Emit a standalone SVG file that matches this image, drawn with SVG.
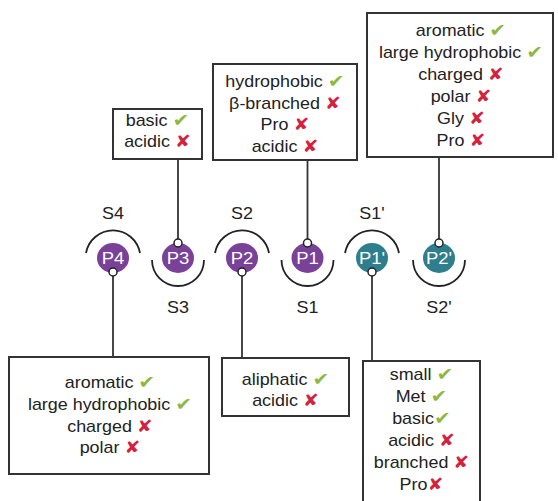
<svg xmlns="http://www.w3.org/2000/svg" width="558" height="501" viewBox="0 0 558 501">
<style>
.box{fill:#fff;stroke:#333;stroke-width:2}
.ln{stroke:#333;stroke-width:1.8;fill:none}
.arc{stroke:#222;stroke-width:1.8;fill:none}
.dot{fill:#fff;stroke:#222;stroke-width:1.5}
.pur{fill:#7a4199}
.teal{fill:#2f7e8e}
text{font-family:"Liberation Sans",Arial,sans-serif;font-size:16px;fill:#222;text-anchor:middle}
.pl{fill:#fff;font-size:16.5px}
.ok{fill:#8cb83e;font-family:"DejaVu Sans",sans-serif;font-size:18px}
.no{fill:#d4213d;font-family:"DejaVu Sans",sans-serif;font-size:17px}
</style>
<rect width="558" height="501" fill="#fff"/>
<g id="connectors">
<line class="ln" x1="178" y1="159" x2="178" y2="242"/>
<line class="ln" x1="307.5" y1="160" x2="307.5" y2="242"/>
<line class="ln" x1="439" y1="157" x2="439" y2="242"/>
<line class="ln" x1="113" y1="274" x2="113" y2="357"/>
<line class="ln" x1="242" y1="274" x2="242" y2="358"/>
<line class="ln" x1="372" y1="274" x2="372" y2="361"/>
</g>
<g id="S4"><path class="arc" d="M86,253 A27.5,28 0 0 1 140,253"/><text transform="translate(113,219) scale(1.12,1)">S4</text></g>
<g id="S3"><path class="arc" d="M152,260 A26,26 0 0 0 204,260"/><text transform="translate(178,313) scale(1.12,1)">S3</text></g>
<g id="S2"><path class="arc" d="M215,253 A27.5,28 0 0 1 269,253"/><text transform="translate(242,219) scale(1.12,1)">S2</text></g>
<g id="S1"><path class="arc" d="M281.5,260 A26,26 0 0 0 333.5,260"/><text transform="translate(307.5,313) scale(1.12,1)">S1</text></g>
<g id="S1p"><path class="arc" d="M345,253 A27.5,28 0 0 1 399,253"/><text transform="translate(372,219) scale(1.12,1)">S1'</text></g>
<g id="S2p"><path class="arc" d="M413,260 A26,26 0 0 0 465,260"/><text transform="translate(439,313) scale(1.12,1)">S2'</text></g>
<g id="P4"><ellipse class="pur" cx="113" cy="258" rx="16" ry="15"/><text class="pl" transform="translate(113,264) scale(1.12,1)">P4</text><circle class="dot" cx="113" cy="272" r="4"/></g>
<g id="P3"><ellipse class="pur" cx="178" cy="258" rx="16" ry="15"/><text class="pl" transform="translate(178,264) scale(1.12,1)">P3</text><circle class="dot" cx="178" cy="243" r="4"/></g>
<g id="P2"><ellipse class="pur" cx="242" cy="258" rx="16" ry="15"/><text class="pl" transform="translate(242,264) scale(1.12,1)">P2</text><circle class="dot" cx="242" cy="272" r="4"/></g>
<g id="P1"><ellipse class="pur" cx="307.5" cy="258" rx="16" ry="15"/><text class="pl" transform="translate(307.5,264) scale(1.12,1)">P1</text><circle class="dot" cx="307.5" cy="243" r="4"/></g>
<g id="P1p"><ellipse class="teal" cx="372" cy="258" rx="16" ry="15"/><text class="pl" transform="translate(372,264) scale(1.12,1)">P1'</text><circle class="dot" cx="372" cy="272" r="4"/></g>
<g id="P2p"><ellipse class="teal" cx="439" cy="258" rx="16" ry="15"/><text class="pl" transform="translate(439,264) scale(1.12,1)">P2'</text><circle class="dot" cx="439" cy="243" r="4"/></g>
<g id="box-P3">
<rect class="box" x="113" y="109" width="89" height="50"/>
<text transform="translate(157.5,126) scale(1.12,1)">basic <tspan class="ok">✔</tspan></text>
<text transform="translate(157.5,147) scale(1.12,1)">acidic <tspan class="no">✘</tspan></text>
</g>
<g id="box-P1">
<rect class="box" x="213" y="64" width="144" height="96"/>
<text transform="translate(285,87) scale(1.12,1)">hydrophobic <tspan class="ok">✔</tspan></text>
<text transform="translate(285,108.5) scale(1.12,1)">β-branched <tspan class="no">✘</tspan></text>
<text transform="translate(285,130) scale(1.12,1)">Pro <tspan class="no">✘</tspan></text>
<text transform="translate(285,151.5) scale(1.12,1)">acidic <tspan class="no">✘</tspan></text>
</g>
<g id="box-P2p">
<rect class="box" x="367" y="13" width="186" height="144"/>
<text transform="translate(461,36) scale(1.12,1)">aromatic <tspan class="ok">✔</tspan></text>
<text transform="translate(461,58) scale(1.12,1)">large hydrophobic <tspan class="ok">✔</tspan></text>
<text transform="translate(461,80) scale(1.12,1)">charged <tspan class="no">✘</tspan></text>
<text transform="translate(461,102) scale(1.12,1)">polar <tspan class="no">✘</tspan></text>
<text transform="translate(461,124) scale(1.12,1)">Gly <tspan class="no">✘</tspan></text>
<text transform="translate(461,146) scale(1.12,1)">Pro <tspan class="no">✘</tspan></text>
</g>
<g id="box-P4">
<rect class="box" x="9" y="357" width="200" height="117"/>
<text transform="translate(110,388) scale(1.12,1)">aromatic <tspan class="ok">✔</tspan></text>
<text transform="translate(110,410) scale(1.12,1)">large hydrophobic <tspan class="ok">✔</tspan></text>
<text transform="translate(110,431.5) scale(1.12,1)">charged  <tspan class="no">✘</tspan></text>
<text transform="translate(110,453) scale(1.12,1)">polar <tspan class="no">✘</tspan></text>
</g>
<g id="box-P2">
<rect class="box" x="222" y="358" width="127" height="58"/>
<text transform="translate(285.5,384.5) scale(1.12,1)">aliphatic <tspan class="ok">✔</tspan></text>
<text transform="translate(285.5,405.5) scale(1.12,1)">acidic <tspan class="no">✘</tspan></text>
</g>
<g id="box-P1p">
<rect class="box" x="363" y="361" width="117" height="150"/>
<text transform="translate(421.5,380) scale(1.12,1)">small <tspan class="ok">✔</tspan></text>
<text transform="translate(421.5,402) scale(1.12,1)">Met <tspan class="ok">✔</tspan></text>
<text transform="translate(421.5,424) scale(1.12,1)">basic<tspan class="ok">✔</tspan></text>
<text transform="translate(421.5,446) scale(1.12,1)">acidic <tspan class="no">✘</tspan></text>
<text transform="translate(421.5,468) scale(1.12,1)">branched <tspan class="no">✘</tspan></text>
<text transform="translate(421.5,490) scale(1.12,1)">Pro<tspan class="no">✘</tspan></text>
</g>
</svg>
